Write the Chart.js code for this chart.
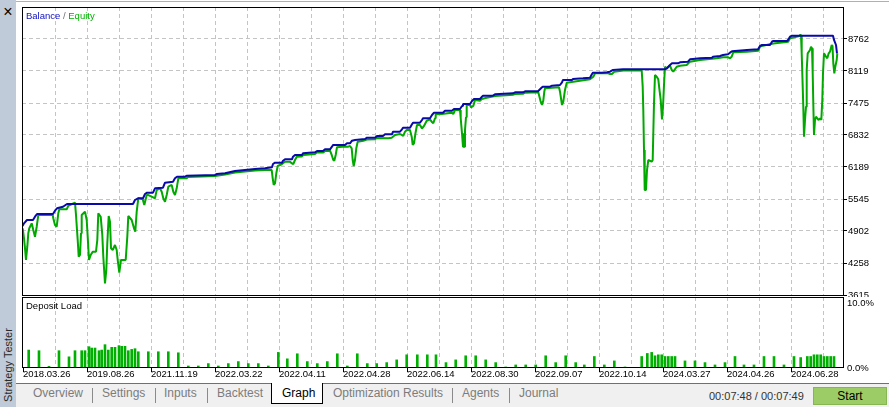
<!DOCTYPE html>
<html><head><meta charset="utf-8">
<script src="https://cdn.jsdelivr.net/npm/chart.js"></script>
<style>
html,body{margin:0;padding:0;background:#fff;}
body{width:889px;height:407px;position:relative;overflow:hidden;font-family:'Liberation Sans',Arial,sans-serif;}
.abs{position:absolute;white-space:nowrap;}
#sidebar{position:absolute;left:0;top:0;width:16px;height:407px;background:#bfcbd8;}
#topline{position:absolute;left:16px;top:1px;width:873px;height:1px;background:#b0b0b0;}
#main{position:absolute;left:0;top:0;}
#load{position:absolute;left:0;top:297px;}
#tabbar{position:absolute;left:16px;top:383px;width:873px;height:23px;background:#f0f0f0;border-top:1px solid #707070;}
.tab{position:absolute;top:386px;font-size:12px;line-height:14px;color:#7c7c7c;white-space:nowrap;}
.sep{position:absolute;top:388px;width:1px;height:15px;background:#8a8a8a;}
#graphtab{position:absolute;left:271px;top:383px;width:50px;height:20px;background:#fff;border:1px solid #000;border-top:none;}
#start{position:absolute;left:813px;top:387px;width:72px;height:16px;background:#9ccc65;border:1px solid #86b552;font-size:12px;line-height:16px;text-align:center;color:#000;}
</style></head>
<body>
<div id="sidebar"></div>
<div id="topline"></div>
<div class="abs" style="left:3px;top:4px;width:10px;text-align:center;font-size:16px;line-height:16px;color:#000;">×</div>
<div class="abs" style="left:8px;top:365px;transform:translate(-50%,-50%) rotate(-90deg);font-size:11px;line-height:12px;color:#2a2a2a;">Strategy Tester</div>
<canvas id="main" width="889" height="297"></canvas>
<canvas id="load" width="889" height="85"></canvas>
<div class="abs" style="left:26px;top:10px;font-size:9.5px;line-height:11px;"><span style="color:#1010c0">Balance</span><span style="color:#707070"> / </span><span style="color:#00b000">Equity</span></div>
<div class="abs" style="left:26px;top:300px;font-size:9.5px;line-height:11px;color:#000;">Deposit Load</div>
<div id="tabbar"></div>
<div class="tab" style="left:33px;">Overview</div>
<div class="sep" style="left:92px;"></div>
<div class="tab" style="left:102px;">Settings</div>
<div class="sep" style="left:155px;"></div>
<div class="tab" style="left:164px;">Inputs</div>
<div class="sep" style="left:207px;"></div>
<div class="tab" style="left:217px;">Backtest</div>
<div id="graphtab"></div>
<div class="tab" style="left:282px;color:#000;">Graph</div>
<div class="tab" style="left:333px;">Optimization Results</div>
<div class="sep" style="left:452px;"></div>
<div class="tab" style="left:462px;">Agents</div>
<div class="sep" style="left:509px;"></div>
<div class="tab" style="left:519px;">Journal</div>
<div class="abs" style="left:709px;top:390px;font-size:11px;line-height:13px;color:#333;">00:07:48 / 00:07:49</div>
<div id="start">Start</div>
<script>
// ---- data ----
const xTickLabels = ['2018.03.26','2019.08.26','2021.11.19','2022.03.22','2022.04.11','2022.04.28','2022.06.14','2022.08.30','2022.09.07','2022.10.14','2024.03.27','2024.04.26','2024.06.28'];
const yTickValues = [3615,4258,4902,5545,6189,6832,7475,8119,8762];
const loadTickValues = [0,10];

const balanceDeals = [-0.5,1,4,10,12,14,30,32,34,40,44,110,112,115,120,122,124,130,132,140,142,150,152,154,162,164,192,194,202,212,222,232,242,249,250,252,259,260,262,269,270,272,279,280,292,294,300,302,307,309,310,322,324,327,329,332,342,344,352,354,360,362,369,370,377,379,380,387,389,390,397,399,400,407,409,411,420,422,429,431,437,439,440,447,449,451,457,459,460,470,472,490,492,500,502,515,517,519,520,527,529,537,539,540,549,550,560,567,569,570,579,584,587,590,600,642,644,647,649,655,657,665,667,670,677,689,690,697,700,705,707,709,724,735,737,739,747,749,750,764,765,767,769,810,811,813,814];
const balanceValues = [5002,5056,5123,5123,5189,5243,5243,5310,5358,5390,5445,5445,5525,5559,5559,5646,5672,5672,5760,5772,5873,5893,5961,5993,5993,6014,6028,6048,6062,6108,6128,6148,6162,6182,6249,6275,6275,6315,6343,6343,6396,6430,6430,6464,6484,6510,6510,6544,6544,6597,6631,6631,6665,6665,6717,6731,6751,6778,6778,6812,6812,6846,6846,6898,6898,6946,6979,6979,7047,7079,7079,7133,7168,7168,7234,7280,7280,7320,7320,7355,7355,7415,7455,7455,7515,7556,7556,7602,7622,7622,7650,7670,7690,7690,7710,7710,7751,7791,7803,7803,7823,7837,7891,7938,7938,7958,7972,7984,8058,8084,8084,8093,8105,8139,8153,8153,8173,8239,8273,8273,8294,8306,8354,8360,8374,8386,8406,8420,8440,8454,8487,8515,8541,8555,8621,8641,8641,8708,8722,8722,8742,8808,8828,8828,8742,8641,8474];

const equityDeals = [-0.3,1,2,3,4.3,5.3,6.3,8.7,10.3,12,13.7,15.3,29.7,30.3,32,33.7,35.3,36.3,43.7,45.3,52,53,54.7,55.7,57,58,58.7,62,63.7,64.7,66,67.7,69.7,73,74.3,75.3,77.7,79.3,80.3,82,83.3,84.3,85.7,87,88,89.7,92,93.7,94.7,96.3,98,102.7,104.3,105.3,108.7,111,112.3,113.7,115.3,119.7,121.3,123.7,125.3,128.7,132,133.7,137,138.7,140.3,142,143.7,145.3,148.7,150.3,152,153.7,155.3,163.7,165,192,202,
212,222,232,242,248.7,249.7,250.7,252,253.3,254.7,258.7,262,267,268.7,270.3,272,273.7,278.7,280.3,292,293.7,300.3,302,307,308.7,310.3,311.3,312.7,314,322,325.3,327,328.7,329.7,330.7,332,333.3,334.7,340.3,343.7,352,353.7,365.3,368.7,372,377,378.7,380.3,382,383.7,387,388.7,389.7,391,392.5,394,397,399,401,403.7,407,408.7,410.3,412,412.7,418.7,428.7,430.3,432,437,437.7,439,440,441.3,442,443,443.7,447,448,450.3,452,457,458.7,463.7,472,490.3,492,500.3,502,515.3,516,517.7,519,520.3,521.3,522,536,537,538,539,540.3,542,543.7,550.3,567,570.3,572,585.3,587,589,591.3,600.3,618.7,
619.7,620.3,621,621.7,623,624,625.3,628.7,629.7,630.3,631,632,633.7,635.3,636.3,637.7,639,640,641,642,643.7,647,648.7,650.3,653.7,657,663.7,667,677,693.7,700.3,705.3,707,708.7,710.3,723.7,735.3,737,738.7,750.3,765.3,767,776.3,777,778,778.7,779.7,780.3,781,782,783,783.7,784.7,787,788,789,789.7,790.3,791,792,793,794.3,795.7,797,798.3,799.3,800,801,803,804.3,805.7,807,808.7,809.5,810.3,811.3,812.3,813.7,814.3];
const equityValues = [4956,4755,4554,4319,4586,4856,4956,5056,4922,4787,4988,5223,5223,5157,5022,4988,5257,5338,5338,5410,5471,5223,4721,4385,4419,4855,5223,5290,5123,4787,4319,4419,4485,4485,4721,5257,5189,4821,4385,3850,4117,4654,5203,5089,4554,4520,4620,4520,4319,4063,4319,4319,4787,5203,5123,4956,4888,5290,5559,5539,5424,5625,5625,5591,5559,5726,5760,5692,5559,5491,5625,5792,5827,5692,5625,5760,5961,5961,5987,6007,6038,
6078,6098,6118,6128,6128,5961,5827,5861,6062,6209,6243,6295,6295,6263,6249,6329,6396,6400,6430,6450,6480,6480,6510,6516,6430,6329,6315,6430,6585,6601,6597,6611,6564,6329,6209,6329,6564,6697,6717,6741,6745,6771,6765,6778,6832,6852,6832,6812,6898,6932,6932,6798,6631,6665,6872,7033,7033,6962,7013,7119,7147,7099,7067,7168,7248,7254,7280,7254,7334,7334,7168,6866,6597,6597,6932,7188,7435,7435,7389,7415,7536,7521,7556,7582,7616,7642,7656,7662,7682,7690,7636,7501,7435,7525,7702,7771,7791,7702,7570,7435,7501,7737,7883,7903,7952,8004,8072,8072,8058,8058,8105,8129,8129,
7803,7334,6530,5726,5726,6128,6329,6295,6329,6866,7469,8038,8004,7952,7771,7536,7147,7401,7837,8205,8173,8229,8139,8105,8205,8225,8239,8306,8340,8374,8394,8394,8374,8406,8495,8507,8527,8607,8621,8672,8708,8776,8822,8842,8842,8474,7803,7401,6798,7133,7401,8139,8474,8541,8607,8575,8072,7469,6832,7133,7200,7168,7133,7168,7133,7536,8072,8474,8406,8374,8474,8507,8641,8621,8273,8072,8205,8340,8474];

const loadDeals = [5.7,16,26,36,46,52,58.7,62,66,68.7,72,76,78.7,82,85.3,88.7,92,96,98.7,102,105.3,108.7,112,115.3,125.3,135.3,145.3,155.3,165.3,175.3,185.3,195.3,205.3,215.3,225.3,235.3,245.3,255.3,264.3,274.3,284.3,294.3,304.3,314.3,324.3,334.3,344.3,353.7,363.7,373.7,383.7,394.3,404.3,413,423,432.7,442.7,452.7,462.7,472.7,482.7,492.7,502.7,512.7,522.7,532.7,542.7,552.7,561.3,571.3,581.3,591.3,602,618.7,624.3,628.7,632,635.3,638.7,642,645.3,648.7,652,662,672,682,692,702,712,721,731,741,751,761,771,777.7,784.3,787.7,791,794.3,797.7,801,804.3,807.7,811];
const loadPercent = [2.76,2.66,0.26,2.66,1.72,2.66,2.66,2.66,3.28,3.07,3.07,2.66,2.76,3.59,2.76,3.18,3.18,3.44,3.33,3.33,2.66,2.86,2.97,2.5,2.5,2.5,2.5,2.34,0.31,0.31,0.68,0.31,0.68,0.99,0.68,0.68,0.31,2.4,1.41,2.19,0.99,0.68,0.99,2.19,0.31,2.19,0.68,0.68,0.83,1.25,2.03,2.03,2.03,2.03,0.83,1.25,1.88,1.88,1.25,0.83,0.16,0.47,0.47,0.47,1.88,0.83,1.88,0.83,0.47,1.77,0.47,1.09,0.16,1.77,2.24,2.4,1.88,2.03,2.03,1.77,1.77,1.77,1.77,1.09,1.09,0.83,0.47,0.83,1.77,0.47,0.47,1.77,1.77,0.47,1.77,1.61,1.77,1.77,2.03,2.03,2.03,1.77,1.77,1.77,1.77];

// ---- chart setup ----
const FONT = "'Liberation Sans', Arial, sans-serif";
Chart.defaults.font.family = FONT;
Chart.defaults.font.size = 9.5;
Chart.defaults.color = '#000';

const gridStep = 32;
const gridTicks = [];
for (let v = 0; v <= 800; v += gridStep) gridTicks.push(v);
const GRID = '#c4c4c4';
const DASH = [4,3];

const frame = {
  id: 'frame',
  afterDatasetsDraw(chart) {
    const {ctx, chartArea: a} = chart;
    ctx.save();
    ctx.strokeStyle = '#000';
    ctx.lineWidth = 1;
    ctx.strokeRect(Math.round(a.left) + 0.5, Math.round(a.top) + 0.5, Math.round(a.right - a.left) - 1, Math.round(a.bottom - a.top) - 1);
    ctx.restore();
  }
};

const noPad = s => { s.paddingTop = 0; s.paddingBottom = 0; s.paddingLeft = 0; s.paddingRight = 0; };

const xCommon = () => ({
  type: 'linear', min: -1, max: 821, offset: false,
  afterBuildTicks: s => { s.ticks = gridTicks.map(v => ({value: v})); },
  grid: {
    color: c => (c.tick && c.tick.value === 0) ? 'rgba(0,0,0,0)' : GRID,
    lineWidth: 1, offset: false
  },
  border: {display: false, dash: DASH}
});

const mainX = xCommon();
mainX.ticks = {display: false};
mainX.grid.drawTicks = false;
mainX.afterFit = s => { s.height = 0; noPad(s); };

new Chart(document.getElementById('main'), {
  type: 'line',
  data: {
    datasets: [
      {label: 'Balance', data: balanceDeals.map((x, i) => ({x, y: balanceValues[i]})),
       borderColor: '#0a0aaa', borderWidth: 2, pointRadius: 0, tension: 0, borderJoinStyle: 'bevel', fill: false},
      {label: 'Equity', data: equityDeals.map((x, i) => ({x, y: equityValues[i]})),
       borderColor: '#00a800', borderWidth: 2, pointRadius: 0, tension: 0, borderJoinStyle: 'bevel', fill: false}
    ]
  },
  options: {
    responsive: false, animation: false, devicePixelRatio: 1,
    layout: {padding: {left: 22, top: 7, right: 0, bottom: 1}},
    plugins: {legend: {display: false}, tooltip: {enabled: false}},
    scales: {
      x: mainX,
      y: {
        type: 'linear', position: 'right', min: 3595, max: 9405,
        afterBuildTicks: s => { s.ticks = yTickValues.map(v => ({value: v})); },
        afterFit: s => { s.width = 45; noPad(s); },
        ticks: {autoSkip: false, padding: 1, color: '#000', callback: v => String(v)},
        grid: {color: GRID, tickColor: '#000', tickLength: 3, tickBorderDash: []},
        border: {display: false, dash: DASH}
      }
    }
  },
  plugins: [frame]
});

const loadX = xCommon();
loadX.afterFit = s => { s.height = 14; noPad(s); };
loadX.grid.tickLength = 4;
loadX.grid.tickColor = c => (c.index % 2 === 0) ? '#000' : 'rgba(0,0,0,0)';
loadX.grid.tickBorderDash = [];
loadX.ticks = {
  autoSkip: false, maxRotation: 0, minRotation: 0, align: 'start', padding: -3, color: '#000',
  callback: (v, i) => (i % 2 === 0 ? (xTickLabels[i / 2] || '') : '')
};

new Chart(document.getElementById('load'), {
  type: 'bar',
  data: {
    datasets: [{label: 'Deposit Load', data: loadDeals.map((x, i) => ({x, y: loadPercent[i]})),
      backgroundColor: '#00b000', borderWidth: 0, barThickness: 2}]
  },
  options: {
    responsive: false, animation: false, devicePixelRatio: 1,
    layout: {padding: {left: 22, top: 0, right: 0, bottom: 0}},
    plugins: {legend: {display: false}, tooltip: {enabled: false}},
    scales: {
      x: loadX,
      y: {
        type: 'linear', position: 'right', min: 0, max: 10.92,
        afterBuildTicks: s => { s.ticks = loadTickValues.map(v => ({value: v})); },
        afterFit: s => { s.width = 45; noPad(s); },
        ticks: {autoSkip: false, padding: 3, color: '#000', callback: v => v.toFixed(1) + '%'},
        grid: {display: false, drawTicks: false},
        border: {display: false}
      }
    }
  },
  plugins: [frame]
});
</script>
</body></html>
